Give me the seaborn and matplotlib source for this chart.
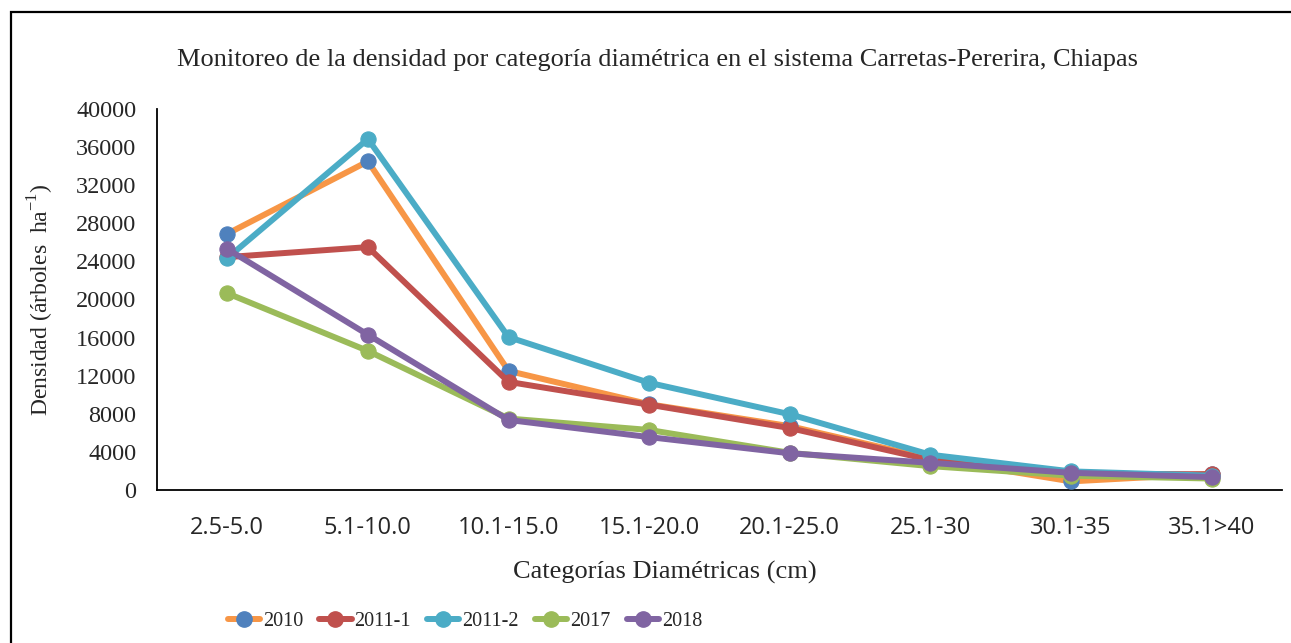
import numpy as np
import pandas as pd
import matplotlib
matplotlib.use("Agg")
import matplotlib.pyplot as plt
import seaborn as sns
from matplotlib.lines import Line2D
from matplotlib.patches import Rectangle

categorias = ["2.5-5.0", "5.1-10.0", "10.1-15.0", "15.1-20.0",
              "20.1-25.0", "25.1-30", "30.1-35", "35.1>40"]
series = ["2010", "2011-1", "2011-2", "2017", "2018"]
d2010 = [26900, 34500, 12500, 9000, 6700, 3300, 900, 1700]
d2011_1 = [24450, 25500, 11350, 8950, 6500, 3150, 1700, 1650]
d2011_2 = [24350, 36850, 16050, 11250, 7950, 3700, 1950, 1500]
d2017 = [20650, 14600, 7500, 6300, 3900, 2500, 1500, 1200]
d2018 = [25300, 16300, 7350, 5550, 3850, 2850, 1800, 1350]
valores = [d2010, d2011_1, d2011_2, d2017, d2018]

line_colors = ["#F79646", "#C0504D", "#4BACC6", "#9BBB59", "#8064A2"]
marker_colors = ["#4F81BD", "#C0504D", "#4BACC6", "#9BBB59", "#8064A2"]

serif = "Liberation Serif"
sns.set_style("white")
plt.rcParams["font.family"] = [serif, "DejaVu Serif"]
plt.rcParams["mathtext.fontset"] = "custom"
plt.rcParams["mathtext.rm"] = serif

fig = plt.figure(figsize=(12.91, 6.43), dpi=100)
ax = fig.add_axes([0.1216, 0.238, 0.8714, 0.5925])

for i, name in enumerate(series):
    df = pd.DataFrame({"cat": categorias, "val": valores[i]})
    sns.lineplot(data=df, x="cat", y="val", ax=ax, sort=False,
                 color=line_colors[i], linewidth=4.3, marker="o",
                 markersize=11, markerfacecolor=marker_colors[i],
                 markeredgecolor=marker_colors[i], zorder=3 + i)

ax.set_xlim(-0.5, len(categorias) - 0.5)
ax.set_ylim(0, 40000)
ax.set_yticks(np.arange(0, 40001, 4000))
ax.set_yticklabels([str(v) for v in range(0, 40001, 4000)], fontsize=17.5)
ax.set_xticks(range(len(categorias)))
ax.set_xticklabels(categorias, fontsize=17, family=["Open Sans", "DejaVu Sans"])
ax.tick_params(axis="x", pad=19, length=0)
ax.tick_params(axis="y", pad=15, length=0)
for s in ["top", "right"]:
    ax.spines[s].set_visible(False)
for s in ["left", "bottom"]:
    ax.spines[s].set_color("black")
    ax.spines[s].set_linewidth(1.3)

ax.set_xlabel("")
ax.set_ylabel(r"Densidad (árboles  ha$^{\mathregular{-1}}$)", fontsize=17, labelpad=14)
fig.text(0.515, 0.109, "Categorías Diamétricas (cm)", ha="center", va="center", fontsize=19)
fig.text(0.509, 0.907, "Monitoreo de la densidad por categoría diamétrica en el sistema Carretas-Pererira, Chiapas",
         ha="center", va="center", fontsize=19)

handles = [Line2D([0], [0], color=line_colors[i], linewidth=4.3, marker="o",
                  markersize=11, markerfacecolor=marker_colors[i],
                  markeredgecolor=marker_colors[i]) for i in range(len(series))]
fig.legend(handles, series, loc="center", bbox_to_anchor=(465 / 1291, 0.033), ncol=5,
           frameon=False, fontsize=14.5, handlelength=1.6, handletextpad=0.15,
           columnspacing=0.8)

fig.patches.append(Rectangle((11 / 1291, -0.1), 1.2, 0.981 + 0.1, transform=fig.transFigure,
                             fill=False, edgecolor="black", linewidth=1.6, clip_on=False))

fig.savefig("out.png", dpi=100)
